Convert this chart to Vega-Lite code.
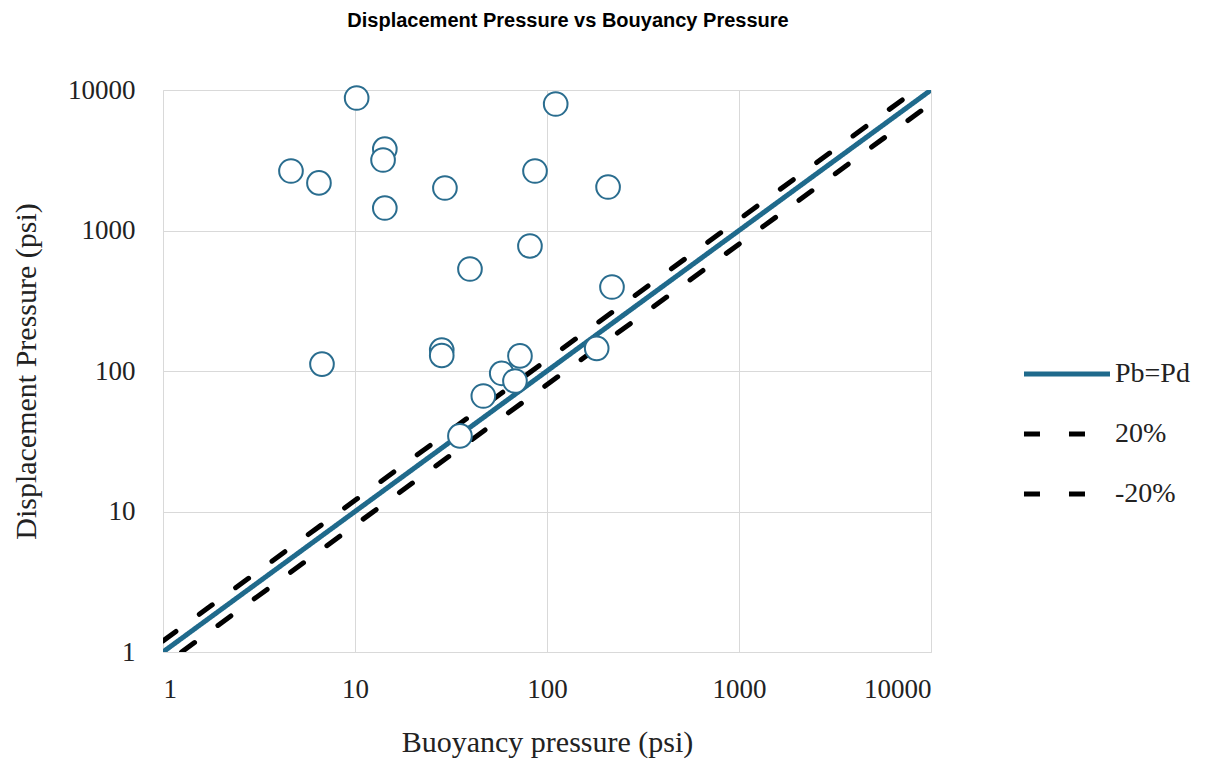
{
  "$schema": "https://vega.github.io/schema/vega-lite/v6.json",
  "width": 768,
  "height": 562,
  "autosize": {"type": "none"},
  "padding": {"left": 163, "top": 90, "right": 283, "bottom": 108},
  "background": "white",
  "config": {
    "view": {"stroke": null},
    "axis": {
      "gridColor": "#d9d9d9",
      "gridWidth": 1,
      "domainColor": "#d9d9d9",
      "domainWidth": 1,
      "ticks": false,
      "tickSize": 0,
      "labelFont": "Liberation Serif",
      "labelColor": "#222222",
      "titleFont": "Liberation Serif",
      "titleColor": "#222222",
      "titleFontWeight": "normal"
    }
  },
  "title": {
    "text": "Displacement Pressure vs Bouyancy Pressure",
    "font": "Liberation Sans",
    "fontSize": 20,
    "fontWeight": "bold",
    "color": "#000000",
    "anchor": "middle",
    "frame": "group",
    "dx": 21,
    "offset": 45
  },
  "datasets": {
    "points": [
      {"pb": 4.64, "pd": 2650},
      {"pb": 6.49, "pd": 2180},
      {"pb": 10.2, "pd": 8770},
      {"pb": 14.3, "pd": 3800},
      {"pb": 14.0, "pd": 3175},
      {"pb": 14.3, "pd": 1445},
      {"pb": 29.4, "pd": 2006},
      {"pb": 111, "pd": 7950},
      {"pb": 86.6, "pd": 2650},
      {"pb": 208, "pd": 2040},
      {"pb": 39.7, "pd": 532},
      {"pb": 81.5, "pd": 776},
      {"pb": 218, "pd": 396},
      {"pb": 6.73, "pd": 112},
      {"pb": 28.3, "pd": 141},
      {"pb": 28.3, "pd": 129},
      {"pb": 46.6, "pd": 66.4},
      {"pb": 58.1, "pd": 96.3},
      {"pb": 72.3, "pd": 128},
      {"pb": 68.1, "pd": 84.9},
      {"pb": 35.2, "pd": 34.5},
      {"pb": 181.5, "pd": 145}
    ],
    "lines": [
      {"series": "Pb=Pd", "pb": 1, "pd": 1},
      {"series": "Pb=Pd", "pb": 10000, "pd": 10000},
      {"series": "20%", "pb": 1, "pd": 1.2},
      {"series": "20%", "pb": 8333.3, "pd": 10000},
      {"series": "-20%", "pb": 1.25, "pd": 1},
      {"series": "-20%", "pb": 10000, "pd": 8000}
    ]
  },
  "layer": [
    {
      "data": {"name": "lines"},
      "mark": {"type": "line", "strokeWidth": 5, "strokeCap": "round", "clip": true},
      "encoding": {
        "x": {
          "field": "pb", "type": "quantitative",
          "scale": {"type": "log", "domain": [1, 10000], "nice": false},
          "axis": {
            "values": [1, 10, 100, 1000, 10000],
            "format": "d",
            "labelFontSize": 27,
            "labelPadding": 24,
            "labelBaseline": "top",
            "title": "Buoyancy pressure (psi)",
            "titleFontSize": 30,
            "titleX": 384,
            "titleY": 90,
            "titleBaseline": "middle",
            "titleAlign": "center",
            "grid": true
          }
        },
        "y": {
          "field": "pd", "type": "quantitative",
          "scale": {"type": "log", "domain": [1, 10000], "nice": false},
          "axis": {
            "values": [1, 10, 100, 1000, 10000],
            "format": "d",
            "labelFontSize": 27,
            "labelPadding": 28,
            "title": "Displacement Pressure (psi)",
            "titleFontSize": 30,
            "titleAngle": -90,
            "titleX": -137,
            "titleY": 281,
            "titleBaseline": "middle",
            "titleAlign": "center",
            "grid": true
          }
        },
        "color": {
          "field": "series", "type": "nominal",
          "scale": {"domain": ["Pb=Pd", "20%", "-20%"], "range": ["#1f6a8c", "#000000", "#000000"]},
          "legend": {
            "title": null,
            "orient": "none",
            "legendX": 858,
            "legendY": 238,
            "symbolType": "stroke",
            "symbolSize": 7400,
            "symbolStrokeWidth": 5,
            "labelFont": "Liberation Serif",
            "labelFontSize": 28,
            "labelColor": "#222222",
            "labelOffset": 2,
            "rowPadding": -5
          }
        },
        "strokeDash": {
          "field": "series", "type": "nominal",
          "scale": {"domain": ["Pb=Pd", "20%", "-20%"], "range": [[1, 0], [16, 29], [16, 29]]},
          "legend": null
        }
      }
    },
    {
      "data": {"name": "points"},
      "mark": {"type": "point", "shape": "circle", "filled": false, "fill": "white", "fillOpacity": 1, "stroke": "#2a6d8f", "strokeWidth": 2, "size": 560, "opacity": 1},
      "encoding": {
        "x": {"field": "pb", "type": "quantitative"},
        "y": {"field": "pd", "type": "quantitative"}
      }
    }
  ]
}
